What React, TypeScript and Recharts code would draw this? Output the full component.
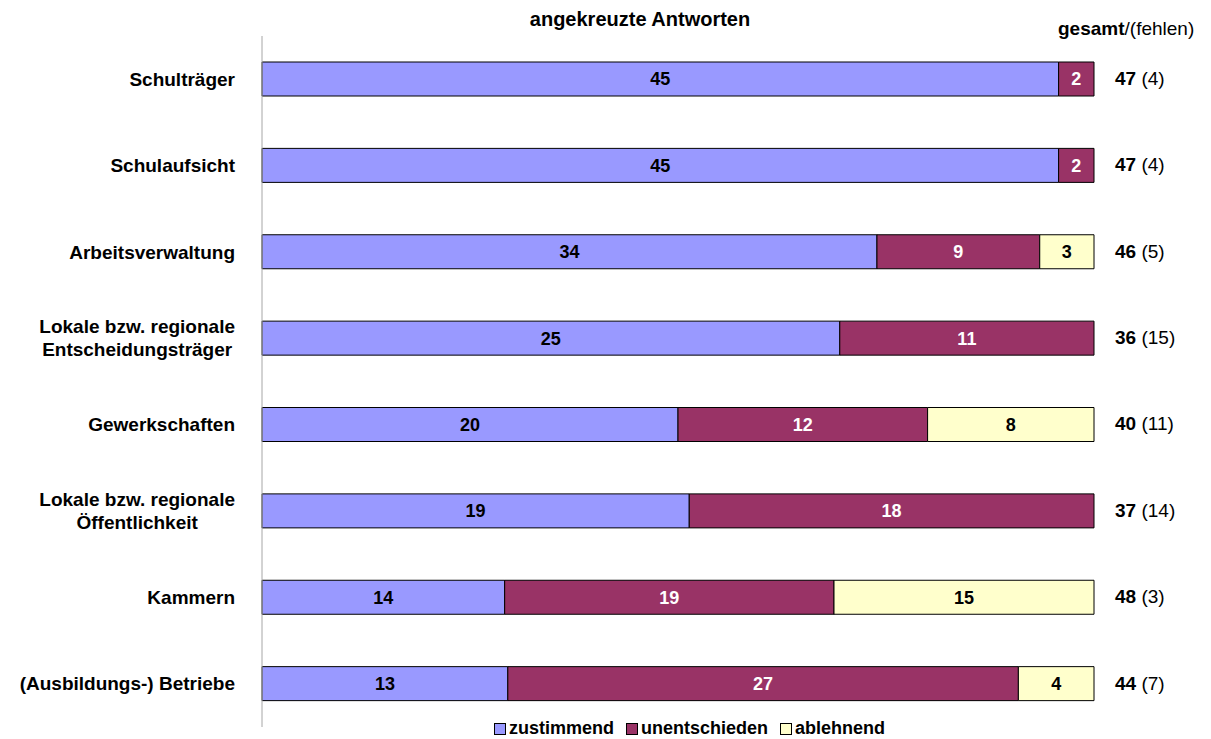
import React from "react";
import { BarChart, Bar, XAxis, YAxis, LabelList } from "recharts";

const categories = [
  "Schulträger",
  "Schulaufsicht",
  "Arbeitsverwaltung",
  "Lokale bzw. regionale\nEntscheidungsträger",
  "Gewerkschaften",
  "Lokale bzw. regionale\nÖffentlichkeit",
  "Kammern",
  "(Ausbildungs-) Betriebe",
];
const zustimmend = [45, 45, 34, 25, 20, 19, 14, 13];
const unentschieden = [2, 2, 9, 11, 12, 18, 19, 27];
const ablehnend = [0, 0, 3, 0, 8, 0, 15, 4];
const fehlen = [4, 4, 5, 15, 11, 14, 3, 7];

const FONT = "'Liberation Sans', Arial, sans-serif";

const data = categories.map((name, i) => ({
  name,
  zu: zustimmend[i],
  un: unentschieden[i],
  ab: ablehnend[i],
  total: zustimmend[i] + unentschieden[i] + ablehnend[i],
  missing: fehlen[i],
}));

const legendItems = [
  { label: "zustimmend", color: "#9999FF" },
  { label: "unentschieden", color: "#993366" },
  { label: "ablehnend", color: "#FFFFCC" },
];

const hideZero = (v: any) => (v ? v : "");

// measure label text so multi-line labels can be centred inside a right-aligned block
let ctx: CanvasRenderingContext2D | null = null;
function textWidth(s: string) {
  if (!ctx) ctx = document.createElement("canvas").getContext("2d");
  if (!ctx) return s.length * 10;
  ctx.font = `bold 19px ${FONT}`;
  return ctx.measureText(s).width;
}

function LeftTick(props: any) {
  const { x, y, payload } = props;
  const lines = String(payload.value).split("\n");
  const lh = 23;
  const start = y - ((lines.length - 1) * lh) / 2;
  const right = x - 19;
  if (lines.length === 1) {
    return (
      <text x={right} y={y} dy="0.35em" textAnchor="end" fontFamily={FONT} fontWeight="bold" fontSize={19} fill="#000">
        {lines[0]}
      </text>
    );
  }
  const w = Math.max(...lines.map(textWidth));
  const cx = right - w / 2;
  return (
    <text x={cx} textAnchor="middle" fontFamily={FONT} fontWeight="bold" fontSize={19} fill="#000">
      {lines.map((l, i) => (
        <tspan key={i} x={cx} y={start + i * lh} dy="0.35em">
          {l}
        </tspan>
      ))}
    </text>
  );
}

function RightTick(props: any) {
  const { x, y, index } = props;
  const row = data[index];
  return (
    <text x={x + 13} y={y} dy="0.3em" fontFamily={FONT} fontSize={19} fill="#000">
      <tspan fontWeight="bold">{row.total}</tspan>
      <tspan> ({row.missing})</tspan>
    </text>
  );
}

export default function App() {
  return (
    <div style={{ position: "absolute", left: 0, top: 0, width: 1211, height: 739, background: "#fff", fontFamily: FONT }}>
      <BarChart
        width={1211}
        height={739}
        data={data}
        layout="vertical"
        stackOffset="expand"
        barSize={34}
        margin={{ top: 36, right: 0, bottom: 12, left: 0 }}
      >
        <XAxis type="number" hide domain={[0, 1]} />
        <YAxis
          yAxisId="left"
          type="category"
          dataKey="name"
          width={262}
          tickLine={false}
          axisLine={{ stroke: "#A6A6A6" }}
          tick={<LeftTick />}
          interval={0}
        />
        <YAxis
          yAxisId="right"
          orientation="right"
          type="category"
          dataKey="name"
          width={117}
          tickLine={false}
          axisLine={false}
          tick={<RightTick />}
          interval={0}
        />
        <Bar yAxisId="left" dataKey="zu" stackId="a" fill="#9999FF" stroke="#000" strokeWidth={1} isAnimationActive={false}>
          <LabelList dataKey="zu" position="center" formatter={hideZero} fill="#000" fontWeight="bold" fontSize={18} fontFamily={FONT} />
        </Bar>
        <Bar yAxisId="left" dataKey="un" stackId="a" fill="#993366" stroke="#000" strokeWidth={1} isAnimationActive={false}>
          <LabelList dataKey="un" position="center" formatter={hideZero} fill="#fff" fontWeight="bold" fontSize={18} fontFamily={FONT} />
        </Bar>
        <Bar yAxisId="left" dataKey="ab" stackId="a" fill="#FFFFCC" stroke="#000" strokeWidth={1} isAnimationActive={false}>
          <LabelList dataKey="ab" position="center" formatter={hideZero} fill="#000" fontWeight="bold" fontSize={18} fontFamily={FONT} />
        </Bar>
      </BarChart>

      <div style={{ position: "absolute", left: 0, width: 1280, top: 8, textAlign: "center", fontWeight: "bold", fontSize: 20 }}>
        angekreuzte Antworten
      </div>
      <div style={{ position: "absolute", left: 1058, top: 18, fontSize: 19, whiteSpace: "nowrap" }}>
        <b>gesamt</b>/(fehlen)
      </div>
      <div style={{ position: "absolute", left: 494, top: 718, display: "flex", alignItems: "center", fontWeight: "bold", fontSize: 18, whiteSpace: "nowrap" }}>
        {legendItems.map((it) => (
          <span key={it.label} style={{ display: "inline-flex", alignItems: "center", marginRight: 12 }}>
            <span style={{ display: "inline-block", width: 10, height: 10, background: it.color, border: "1px solid #000", marginRight: 3 }} />
            {it.label}
          </span>
        ))}
      </div>
    </div>
  );
}
